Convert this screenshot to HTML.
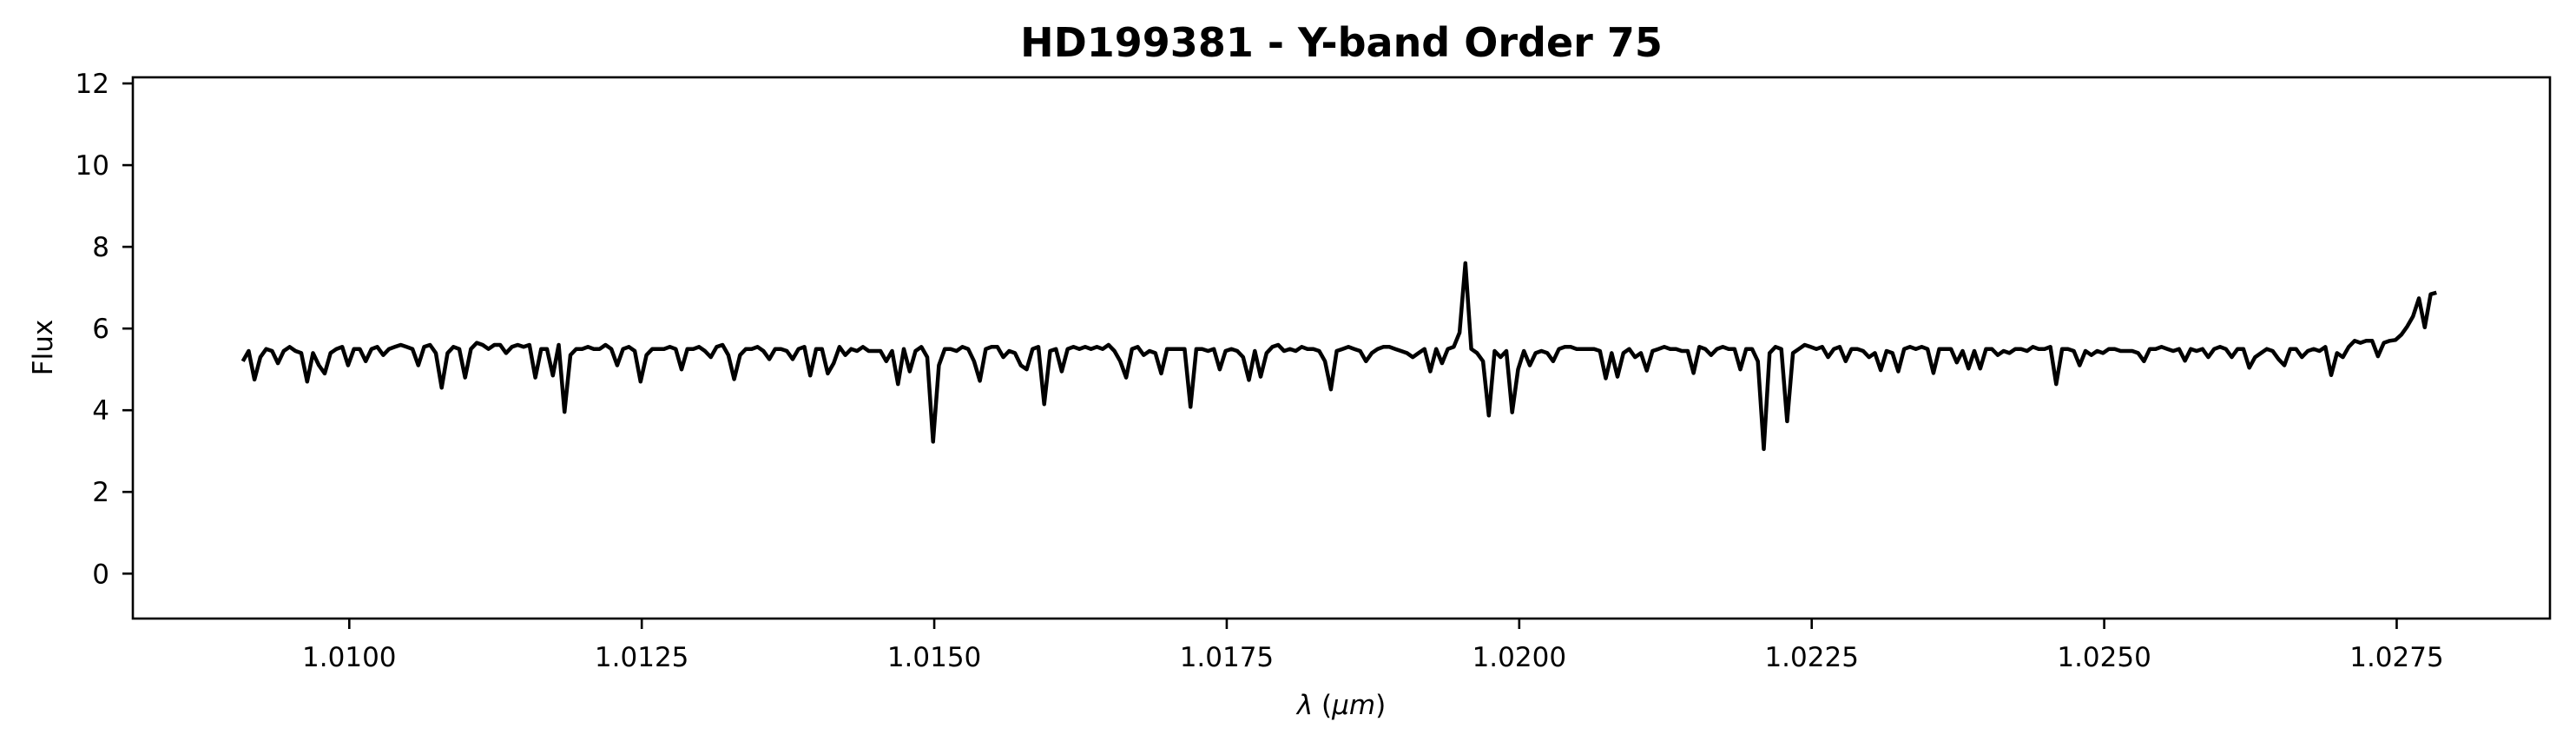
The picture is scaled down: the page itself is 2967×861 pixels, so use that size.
<!DOCTYPE html>
<html><head><meta charset="utf-8"><style>
html,body{margin:0;padding:0;background:#fff;}
svg{display:block;font-family:"DejaVu Sans","Liberation Sans",sans-serif;}
</style></head><body>
<svg id="chart" width="2967" height="861" viewBox="0 0 2967 861" xmlns="http://www.w3.org/2000/svg">
<rect width="2967" height="861" fill="#fff"/>
<text x="1545" y="65" font-size="46" font-weight="bold" text-anchor="middle">HD199381 - Y-band Order 75</text>
<g id="yticks"></g>
<g id="xticks"></g>
<path id="spectrum" fill="none" stroke="#000" stroke-width="4.5" stroke-linejoin="round"/>
<rect x="153" y="89" width="2784" height="623" fill="none" stroke="#000" stroke-width="2.6"/>
<text x="1545" y="822" font-size="31" text-anchor="middle"><tspan font-style="italic">λ</tspan> (<tspan font-style="italic">μm</tspan>)</text>
<text x="0" y="0" font-size="31" text-anchor="middle" transform="translate(60,400) rotate(-90)">Flux</text>
</svg>
<script>
const xTicks = [1.0100, 1.0125, 1.0150, 1.0175, 1.0200, 1.0225, 1.0250, 1.0275];
const xTickLabels = ["1.0100","1.0125","1.0150","1.0175","1.0200","1.0225","1.0250","1.0275"];
const yTicks = [0, 2, 4, 6, 8, 10, 12];
const yTickLabels = ["0","2","4","6","8","10","12"];
const waveStart = 1.00909;
const waveStep = 0.00005;
const flux = [
5.2,5.45,4.75,5.3,5.5,5.45,5.15,5.45,5.55,5.45,5.4,4.7,5.4,5.1,4.9,5.4,5.5,5.55,5.1,5.5,
5.5,5.2,5.5,5.55,5.35,5.5,5.55,5.6,5.55,5.5,5.1,5.55,5.6,5.4,4.55,5.4,5.55,5.5,4.8,5.5,
5.65,5.6,5.5,5.6,5.6,5.4,5.55,5.6,5.55,5.6,4.8,5.5,5.5,4.85,5.6,3.96,5.35,5.5,5.5,5.55,
5.5,5.5,5.6,5.5,5.1,5.5,5.55,5.45,4.7,5.35,5.5,5.5,5.5,5.55,5.5,5.0,5.5,5.5,5.55,5.45,
5.3,5.55,5.6,5.35,4.76,5.35,5.5,5.5,5.55,5.45,5.25,5.5,5.5,5.45,5.25,5.5,5.55,4.85,5.5,5.5,
4.9,5.15,5.55,5.35,5.5,5.45,5.55,5.45,5.45,5.45,5.2,5.45,4.64,5.5,4.95,5.45,5.55,5.3,3.23,5.1,
5.5,5.5,5.45,5.55,5.5,5.2,4.72,5.5,5.55,5.55,5.3,5.45,5.4,5.1,5.0,5.5,5.55,4.15,5.45,5.5,
4.95,5.5,5.55,5.5,5.55,5.5,5.55,5.5,5.6,5.45,5.2,4.8,5.5,5.55,5.35,5.45,5.4,4.9,5.5,5.5,
5.5,5.5,4.08,5.5,5.5,5.45,5.5,5.0,5.45,5.5,5.45,5.3,4.74,5.45,4.82,5.4,5.55,5.6,5.45,5.5,
5.45,5.55,5.5,5.5,5.45,5.2,4.51,5.45,5.5,5.55,5.5,5.45,5.2,5.4,5.5,5.55,5.55,5.5,5.45,5.4,
5.3,5.4,5.5,4.95,5.5,5.15,5.5,5.55,5.9,7.6,5.5,5.4,5.2,3.87,5.45,5.3,5.45,3.95,5.0,5.45,
5.1,5.4,5.45,5.4,5.2,5.5,5.55,5.55,5.5,5.5,5.5,5.5,5.45,4.78,5.4,4.82,5.4,5.5,5.3,5.4,
4.97,5.45,5.5,5.55,5.5,5.5,5.45,5.45,4.91,5.55,5.5,5.35,5.5,5.55,5.5,5.5,5.0,5.5,5.5,5.2,
3.05,5.4,5.55,5.5,3.73,5.4,5.5,5.6,5.55,5.5,5.55,5.3,5.5,5.55,5.2,5.5,5.5,5.45,5.3,5.4,
4.98,5.45,5.4,4.95,5.5,5.55,5.5,5.55,5.5,4.91,5.5,5.5,5.5,5.17,5.45,5.02,5.45,5.02,5.5,5.5,
5.35,5.45,5.4,5.5,5.5,5.45,5.55,5.5,5.5,5.55,4.64,5.5,5.5,5.45,5.1,5.45,5.35,5.45,5.4,5.5,
5.5,5.45,5.45,5.45,5.4,5.2,5.5,5.5,5.55,5.5,5.45,5.5,5.21,5.5,5.45,5.5,5.3,5.5,5.55,5.5,
5.3,5.5,5.5,5.04,5.3,5.4,5.5,5.45,5.25,5.1,5.5,5.5,5.3,5.45,5.5,5.45,5.55,4.86,5.4,5.3,
5.55,5.7,5.65,5.7,5.7,5.32,5.65,5.7,5.72,5.85,6.05,6.3,6.74,6.03,6.84,6.88
];
const xMin = 1.00815, xMax = 1.02881, yMin = -1.1, yMax = 12.15;
const L = 153, R = 2937, T = 89, B = 712;
function sx(v){ return L + (v - xMin) / (xMax - xMin) * (R - L); }
function sy(v){ return B - (v - yMin) / (yMax - yMin) * (B - T); }
const NS = "http://www.w3.org/2000/svg";
const yg = document.getElementById("yticks");
yTicks.forEach((t, i) => {
  const y = sy(t);
  const ln = document.createElementNS(NS, "line");
  
  
  ln.setAttribute("x1", L - 12); ln.setAttribute("x2", L);
  ln.setAttribute("y1", y); ln.setAttribute("y2", y);
  ln.setAttribute("stroke", "#000"); ln.setAttribute("stroke-width", "2.6");
  yg.appendChild(ln);
  const tx = document.createElementNS(NS, "text");
  
  
  tx.setAttribute("x", L - 27); tx.setAttribute("y", y + 11);
  tx.setAttribute("font-size", "31"); tx.setAttribute("text-anchor", "end");
  tx.textContent = yTickLabels[i];
  yg.appendChild(tx);
});
const xg = document.getElementById("xticks");
xTicks.forEach((t, i) => {
  const x = sx(t);
  const ln = document.createElementNS(NS, "line");
  
  
  ln.setAttribute("x1", x); ln.setAttribute("x2", x);
  ln.setAttribute("y1", B); ln.setAttribute("y2", B + 12);
  ln.setAttribute("stroke", "#000"); ln.setAttribute("stroke-width", "2.6");
  xg.appendChild(ln);
  const tx = document.createElementNS(NS, "text");
  
  
  tx.setAttribute("x", x); tx.setAttribute("y", 767);
  tx.setAttribute("font-size", "31"); tx.setAttribute("text-anchor", "middle");
  tx.textContent = xTickLabels[i];
  xg.appendChild(tx);
});
let d = "";
flux.forEach((f, i) => {
  const w = waveStart + i * waveStep;
  d += (i ? "L" : "M") + sx(w).toFixed(1) + " " + sy(f).toFixed(1);
});
document.getElementById("spectrum").setAttribute("d", d);
</script>
</body></html>
